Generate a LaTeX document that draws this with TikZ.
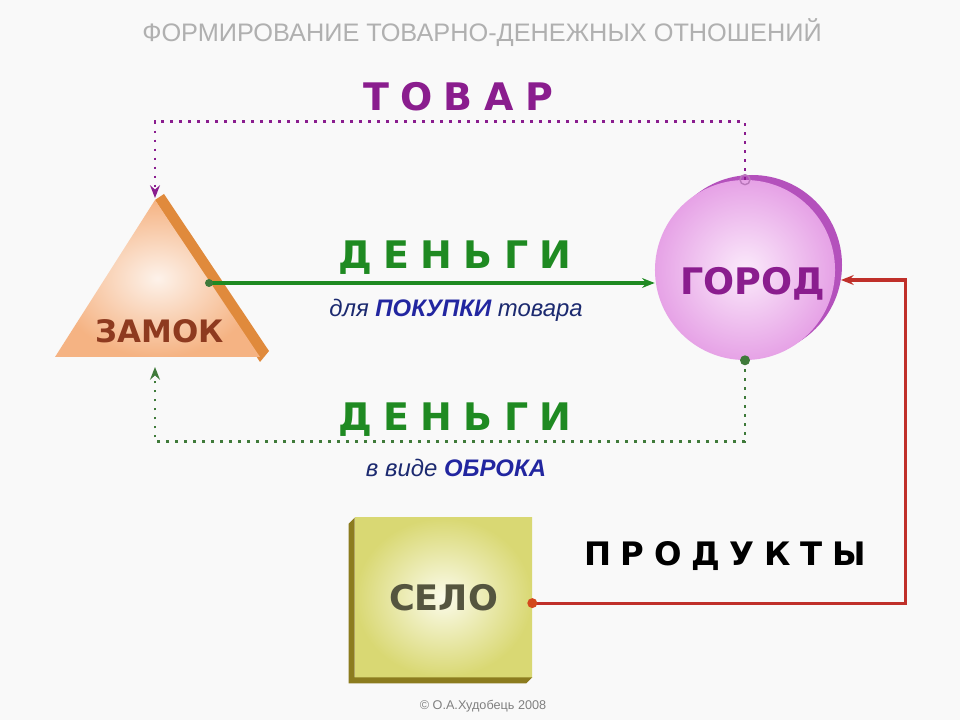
\documentclass[tikz,border=0pt]{standalone}
\usepackage{fontspec}
\setmainfont{Liberation Sans}
\newfontfamily\heavy{DejaVu Sans}
\newfontfamily\heavyspaced[LetterSpace=30]{DejaVu Sans}
\usetikzlibrary{arrows.meta,calc}
\definecolor{bgcol}{HTML}{F9F9F9}
\definecolor{titlegray}{HTML}{B0B0B0}
\definecolor{tovarcol}{HTML}{8A1D8E}
\definecolor{dengicol}{HTML}{1F8A22}
\definecolor{dotgreen}{HTML}{3F7A3A}
\definecolor{bluecol}{HTML}{2226A0}
\definecolor{darkblue}{HTML}{1C2A70}
\definecolor{redcol}{HTML}{C0302A}
\definecolor{zamokin}{HTML}{FDF2EA}
\definecolor{zamokout}{HTML}{F5B383}
\definecolor{zamokside}{HTML}{E08A3C}
\definecolor{zamoktext}{HTML}{8E3A1F}
\definecolor{gorodin}{HTML}{FBEAFB}
\definecolor{gorodout}{HTML}{E6A2E6}
\definecolor{gorodside}{HTML}{B451BC}
\definecolor{seloin}{HTML}{FBFBEA}
\definecolor{seloout}{HTML}{D9D873}
\definecolor{seloside}{HTML}{8C7C1F}
\definecolor{selotext}{HTML}{55553F}
\begin{document}
\begin{tikzpicture}[x=0.025cm,y=-0.025cm,
    flow/.style={line width=2.2pt},
    dots/.style={line width=2pt,dash pattern=on 2pt off 4.4pt},
    tip/.style={-{Stealth[length=9pt,width=7pt,inset=3pt]}},
    bigword/.style={font=\heavyspaced\bfseries\fontsize{#1}{#1}\selectfont},
    plainword/.style={font=\heavy\bfseries\fontsize{#1}{#1}\selectfont}]
    \fill[bgcol] (0,0) rectangle (960,720);
    \useasboundingbox (0,0) rectangle (960,720);
    \node[text=titlegray, font=\fontsize{18}{20}\selectfont] (title) at (482,33) {ФОРМИРОВАНИЕ ТОВАРНО-ДЕНЕЖНЫХ ОТНОШЕНИЙ};

    \fill[zamokside] (155,200) -- (164,194) -- (269,351) -- (260,362) -- cycle;
    \shade[inner color=zamokin, outer color=zamokout] (155,200) -- (260,357) -- (55,357) -- cycle;
    \coordinate (zamoktop) at (155,198);
    \coordinate (zamokbottom) at (155,367);
    \coordinate (zamokright) at (209,283);
    \node[text=zamoktext, plainword=22] (zamok) at (160,331) {ЗАМОК};

    \fill[gorodside] (752,265) circle (90);
    \node[circle, minimum size=4.5cm, inner sep=0pt, inner color=gorodin, outer color=gorodout] (gorod) at (745,270) {};
    \node[text=tovarcol, plainword=26] (gorodlabel) at (753,284) {ГОРОД};
    \coordinate (gorodin) at (841,280);

    \node[minimum width=4.425cm, minimum height=3.975cm, inner sep=0pt, inner color=seloin, outer color=seloout, text=selotext, plainword=25] (selo) at (443.5,597.5) {СЕЛО};
    \fill[seloside] (selo.north west) -- ++(-6,6) -- ($(selo.south west)+(-6,6)$) -- ($(selo.south east)+(-6,6)$) -- (selo.south east) -- (selo.south west) -- cycle;

    \draw[dots, tovarcol, tip] (gorod.north) -- ++(0,-58) -| (zamoktop);
    \draw[flow, dengicol, tip] (zamokright) -- (zamokright -| gorod.west);
    \draw[dots, dotgreen, tip] (gorod.south) -- ++(0,81) -| (zamokbottom);
    \draw[flow, redcol, tip] ([yshift=-4pt]selo.east) -- ++(373,0) |- (gorodin);
    \fill[dotgreen] (zamokright) circle (4);
    \fill[dotgreen] (gorod.south) circle (5);
    \draw[tovarcol!60, line width=1pt] (gorod.north) circle (5);
    \fill[redcol!70!orange] ([yshift=-4pt]selo.east) circle (5);

    \node[text=tovarcol, bigword=27] (tovar) at (458,97) {ТОВАР};
    \node[text=dengicol, bigword=27] (dengitop) at (455,258) {ДЕНЬГИ};
    \node[text=darkblue, font=\itshape\fontsize{17}{20}\selectfont] (pokupka) at (456,310) {для \textcolor{bluecol}{\bfseries ПОКУПКИ} товара};
    \node[text=dengicol, bigword=27] (dengibottom) at (455,420) {ДЕНЬГИ};
    \node[text=darkblue, font=\itshape\fontsize{17}{20}\selectfont] (obrok) at (456,468) {в виде \textcolor{bluecol}{\bfseries ОБРОКА}};
    \node[text=black, bigword=23] (produkty) at (725,556) {ПРОДУКТЫ};
    \node[text=gray, font=\fontsize{9}{10}\selectfont] (credit) at (483,706) {© О.А.Худобець 2008};
\end{tikzpicture}
\end{document}
